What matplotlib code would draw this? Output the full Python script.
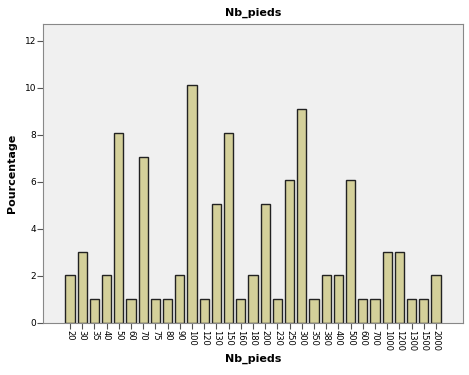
import numpy as np
import matplotlib
matplotlib.use("Agg")
import matplotlib.pyplot as plt

categories = ["20", "30", "35", "40", "50", "60", "70", "75", "80", "90", "100",
              "120", "130", "150", "160", "180", "200", "230", "250", "300", "350",
              "380", "400", "500", "600", "700", "1000", "1200", "1300", "1500", "2000"]
counts = [2, 3, 1, 2, 8, 1, 7, 1, 1, 2, 10, 1, 5, 8, 1, 2, 5, 1, 6, 9, 1,
          2, 2, 6, 1, 1, 3, 3, 1, 1, 2]
percent = np.array(counts) / sum(counts) * 100

fig = plt.figure(figsize=(4.69, 3.75), dpi=100)
ax = fig.add_axes([0.092, 0.139, 0.895, 0.796])
ax.set_facecolor("#f0f0f0")

x = np.arange(len(categories))
ax.bar(x, percent, width=0.75, color="#d4d09a", edgecolor="#222222", linewidth=1.0)

ax.set_xlim(-2.2, len(categories) + 1.2)
ax.set_ylim(0, 12.7)
ax.set_yticks([0, 2, 4, 6, 8, 10, 12])
ax.set_xticks(x)
ax.set_xticklabels(categories, rotation=270, fontsize=6)
ax.tick_params(axis="y", labelsize=6.5, length=4, width=0.8, color="#555555", pad=1)
ax.tick_params(axis="x", length=4, width=0.8, color="#555555", pad=1)

for s in ax.spines.values():
    s.set_color("#888888")
    s.set_linewidth(0.8)

ax.set_title("Nb_pieds", fontsize=8, fontweight="bold", pad=6)
ax.set_xlabel("Nb_pieds", fontsize=8, fontweight="bold", labelpad=2)
ax.set_ylabel("Pourcentage", fontsize=8, fontweight="bold")
ax.yaxis.set_label_coords(-0.062, 0.5)

fig.savefig("out.png", dpi=100)
